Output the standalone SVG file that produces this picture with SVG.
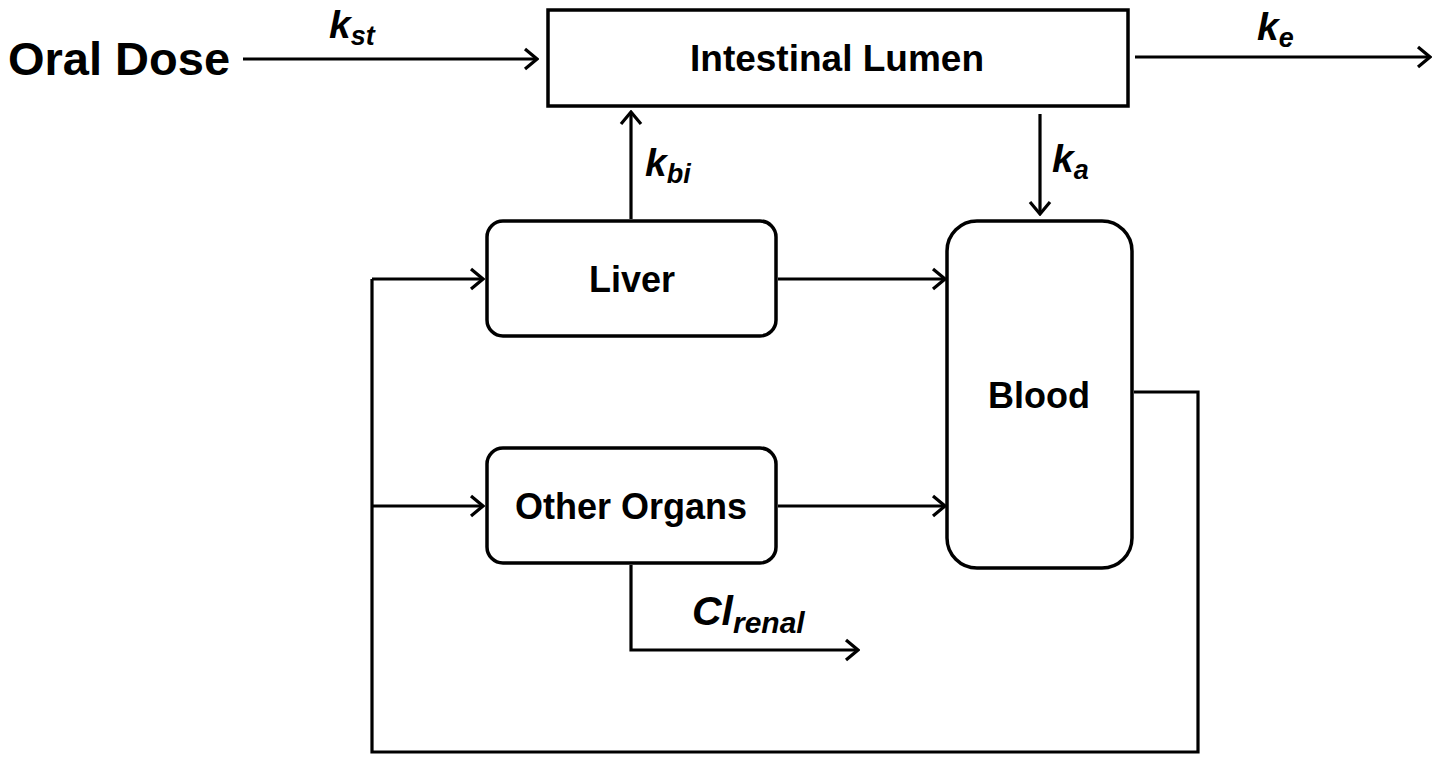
<svg xmlns="http://www.w3.org/2000/svg" width="1441" height="766" viewBox="0 0 1441 766">
<defs>
<style>
.box{fill:#fff;stroke:#000;stroke-width:3.5}
.ln{fill:none;stroke:#000;stroke-width:3.2;marker-end:url(#ah)}
.pl{fill:none;stroke:#000;stroke-width:3.2}
.lbl{font-family:"Liberation Sans",Arial,sans-serif;font-weight:bold;font-size:36px;text-anchor:middle;fill:#000}
.k{font-family:"Liberation Sans",Arial,sans-serif;font-weight:bold;font-style:italic;font-size:39px;fill:#000}
.sub{font-size:27px}
</style>
<marker id="ah" markerWidth="16" markerHeight="24" refX="14" refY="12" orient="auto" markerUnits="userSpaceOnUse">
<path d="M2,2 L14,12 L2,22" fill="none" stroke="#000" stroke-width="3.2"/>
</marker>
</defs>
<rect width="1441" height="766" fill="#fff"/>
<g id="oral-dose">
<text x="8" y="75" style="font-family:'Liberation Sans',Arial,sans-serif;font-weight:bold;font-size:47px">Oral Dose</text>
</g>
<g id="intestinal-lumen">
<rect class="box" x="548" y="10" width="580" height="96"/>
<text class="lbl" x="837" y="71" style="font-size:37px">Intestinal Lumen</text>
</g>
<g id="liver">
<rect class="box" x="487" y="221" width="289" height="115" rx="16"/>
<text class="lbl" x="632" y="292">Liver</text>
</g>
<g id="other-organs">
<rect class="box" x="487" y="448" width="289" height="115" rx="16"/>
<text class="lbl" x="631" y="519">Other Organs</text>
</g>
<g id="blood">
<rect class="box" x="947" y="221" width="185" height="347" rx="30"/>
<text class="lbl" x="1039" y="408">Blood</text>
</g>
<g id="connectors">
<line class="ln" x1="243" y1="59" x2="537" y2="59"/>
<line class="ln" x1="1135" y1="57" x2="1430" y2="57"/>
<line class="ln" x1="631" y1="219" x2="631" y2="112"/>
<line class="ln" x1="1040" y1="114" x2="1040" y2="214"/>
<line class="ln" x1="778" y1="279" x2="945" y2="279"/>
<line class="ln" x1="778" y1="506" x2="945" y2="506"/>
<polyline class="pl" points="1134,392 1198,392 1198,752 372,752 372,279"/>
<line class="ln" x1="372" y1="279" x2="483" y2="279"/>
<line class="ln" x1="372" y1="506" x2="483" y2="506"/>
<polyline class="ln" points="631,565 631,650 858,650"/>
<text class="k" x="329" y="38">k<tspan class="sub" dy="7">st</tspan></text>
<text class="k" x="1257" y="40">k<tspan class="sub" dy="7">e</tspan></text>
<text class="k" x="645" y="176">k<tspan class="sub" dy="7">bi</tspan></text>
<text class="k" x="1052" y="172">k<tspan class="sub" dy="7">a</tspan></text>
<text class="k" x="692" y="625" style="font-size:41px">Cl<tspan class="sub" dy="8" style="font-size:30px">renal</tspan></text>
</g>
</svg>
